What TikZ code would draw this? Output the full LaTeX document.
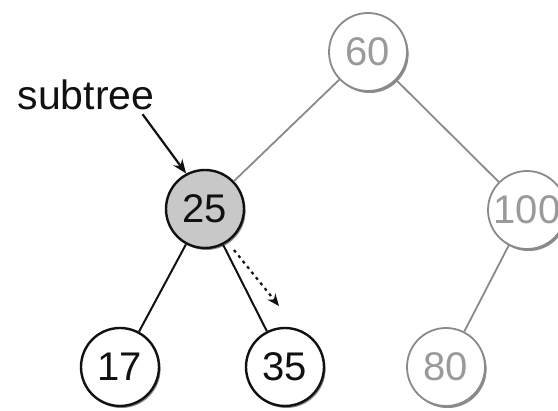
\documentclass[tikz,border=0pt]{standalone}
\usepackage{fontspec}
\setmainfont{Liberation Sans}
\usetikzlibrary{arrows.meta,positioning,shadows}
\definecolor{ink}{HTML}{111111}
\definecolor{muted}{HTML}{8A8A8A}
\definecolor{mutedtext}{HTML}{9A9A9A}
\definecolor{soft}{HTML}{C8C8C8}
\tikzset{
  nd/.style={circle,draw=ink,line width=2.4pt,fill=white,minimum size=78pt,inner sep=0pt,
    font=\fontsize{40}{40}\selectfont,text=ink,
    drop shadow={shadow xshift=1.6pt,shadow yshift=-2pt,opacity=.45,fill=black}},
  ndf/.style={nd,fill=soft},
  ndg/.style={nd,draw=muted,text=mutedtext,line width=1.8pt,
    drop shadow={shadow xshift=1.6pt,shadow yshift=-2pt,opacity=.35,fill=muted}},
  ed/.style={draw=ink,line width=2pt},
  edg/.style={draw=muted,line width=1.8pt},
  ar/.style={-{Stealth[length=14pt,width=11pt]},draw=ink,line width=2.2pt},
  ard/.style={-{Stealth[length=12pt,width=10pt]},draw=ink,line width=2.2pt,dash pattern=on 3pt off 4pt},
  plain/.style={font=\fontsize{41}{41}\selectfont,text=ink,inner sep=0pt},
}
\begin{document}
\begin{tikzpicture}[x=1pt,y=-1pt]
  \useasboundingbox (0,0) rectangle (558,411);

  \node[ndg] (n60) at (368,52) {60};
  \node[ndf] (n25) at (205,209) {25};
  \node[ndg] (n100) at (527,210) {100};
  \node[nd] (n17) at (120,367) {17};
  \node[nd] (n35) at (285,367) {35};
  \node[ndg] (n80) at (446,367) {80};

  \draw[edg] (n60) -- (n25);
  \draw[edg] (n60) -- (n100);
  \draw[ed] (n25) -- (n17);
  \draw[ed] (n25) -- (n35);
  \draw[edg] (n100) -- (n80);

  \node[plain] (lbl) at (86,95) {subtree};
  \draw[ar] ([xshift=-12pt,yshift=-4pt]lbl.south east) -- (n25.118);

  \coordinate (d1) at (234,250);
  \coordinate (d2) at (279,306);
  \draw[ard] (d1) -- (d2);
\end{tikzpicture}
\end{document}
